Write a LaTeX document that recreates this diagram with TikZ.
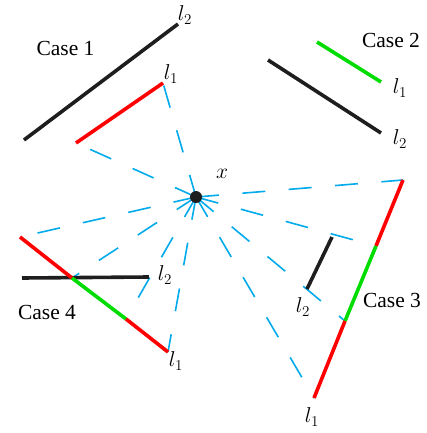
\documentclass[tikz,border=0pt]{standalone}
\usepackage{fix-cm}
\usepackage{fontspec}
\setmainfont{Liberation Serif}
\definecolor{raycol}{RGB}{0,170,235}
\definecolor{lgreen}{RGB}{0,220,0}
\definecolor{lred}{RGB}{255,0,0}
\definecolor{lblack}{RGB}{30,30,30}
\tikzset{
  seg/.style={line width=3.6pt},
  ray/.style={draw=raycol, line width=1.6pt, dash pattern=on 23pt off 23.5pt},
  lbl/.style={font=\fontsize{21.5}{26}\selectfont, inner sep=0pt},
}
\begin{document}
\begin{tikzpicture}[x=1pt,y=-1pt]
\useasboundingbox (0,0) rectangle (427,433);
% key points
\coordinate (o) at (196,197);
% case 1
\coordinate (c1a) at (24,140);  \coordinate (c1b) at (178,24);
\coordinate (c1c) at (76,143);  \coordinate (c1d) at (163,83);
% case 2
\coordinate (c2a) at (317,42);  \coordinate (c2b) at (381,82);
\coordinate (c2c) at (268,60);  \coordinate (c2d) at (381,133);
% case 3
\coordinate (c3t) at (403,180); \coordinate (c3g1) at (376,246);
\coordinate (c3g2) at (345,321); \coordinate (c3b) at (314,398);
\coordinate (c3k1) at (332,237); \coordinate (c3k2) at (307,289);
% case 4
\coordinate (c4t) at (20,237);  \coordinate (c4g1) at (72,278);
\coordinate (c4g2) at (126,319); \coordinate (c4b) at (168,352);
\coordinate (c4k1) at (22,278); \coordinate (c4k2) at (149,277);
% rays
\foreach \p in {c1d,c1c,c4t,c4g1,c4g2,c4b,c3b,c3g2,c3g1,c3t}
  \draw[ray] (o) -- (\p);
% segments
\draw[seg, lblack] (c1a) -- (c1b);
\draw[seg, lred] (c1c) -- (c1d);
\draw[seg, lgreen] (c2a) -- (c2b);
\draw[seg, lblack] (c2c) -- (c2d);
\draw[seg, lred] (c3t) -- (c3g1);
\draw[seg, lgreen] (c3g1) -- (c3g2);
\draw[seg, lred] (c3g2) -- (c3b);
\draw[seg, lblack] (c3k1) -- (c3k2);
\draw[seg, lblack] (c4k1) -- (c4k2);
\draw[seg, lred] (c4t) -- (c4g1);
\draw[seg, lgreen] (c4g1) -- (c4g2);
\draw[seg, lred] (c4g2) -- (c4b);
% dot
\node[circle, fill=lblack, minimum size=12pt, inner sep=0pt] (x) at (o) {};
% labels
\node[lbl] (xl) at (222,174) {$x$};
\node[lbl] (case1) at (65.5,48) {Case 1};
\node[lbl] (c1l2) at (185,15) {$l_2$};
\node[lbl] (c1l1) at (171,74) {$l_1$};
\node[lbl] (case2) at (391,40) {Case 2};
\node[lbl] (c2l1) at (400,88) {$l_1$};
\node[lbl] (c2l2) at (400,139) {$l_2$};
\node[lbl] (case3) at (392,300) {Case 3};
\node[lbl] (c3l2) at (303,307) {$l_2$};
\node[lbl] (c3l1) at (312,417) {$l_1$};
\node[lbl] (case4) at (47,312) {Case 4};
\node[lbl] (c4l2) at (165,275) {$l_2$};
\node[lbl] (c4l1) at (176,361) {$l_1$};
\end{tikzpicture}
\end{document}
